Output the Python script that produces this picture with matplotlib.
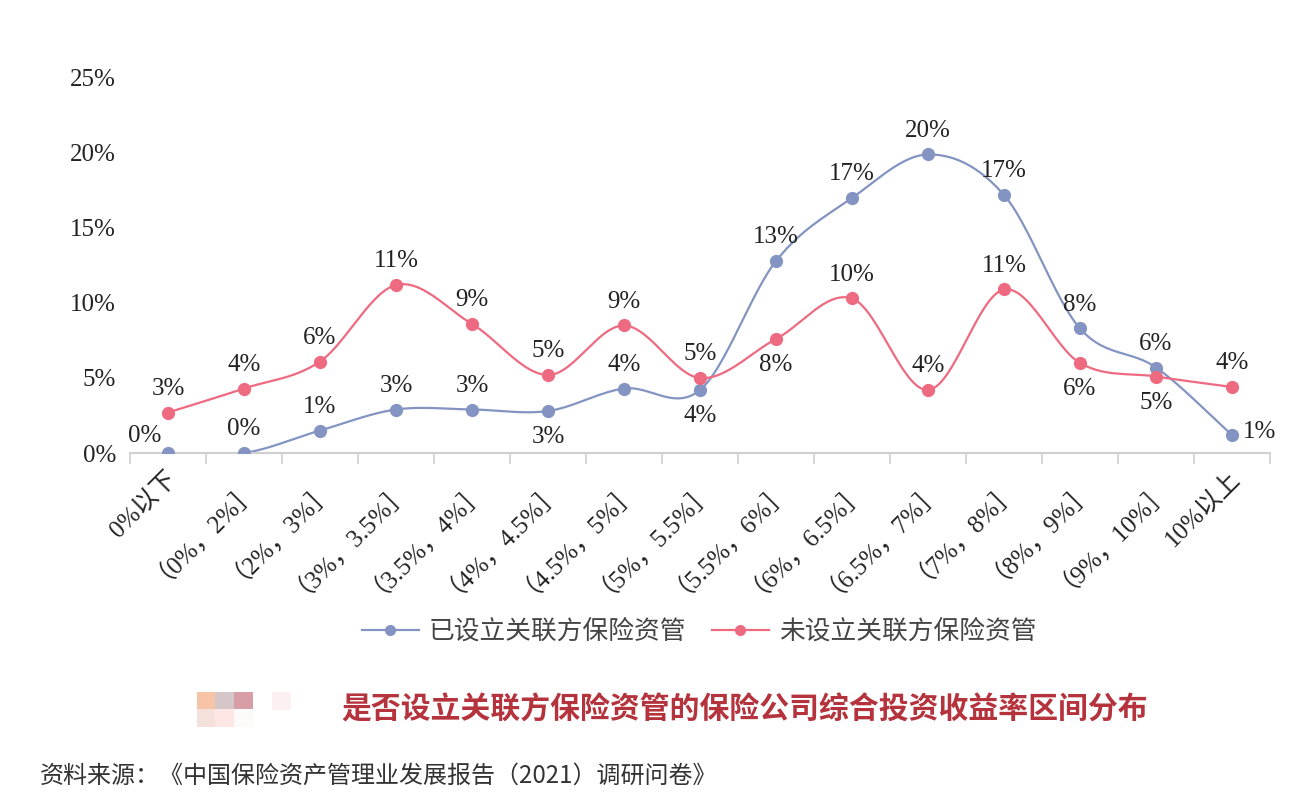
import numpy as np
import matplotlib
matplotlib.use("Agg")
import matplotlib.pyplot as plt
import matplotlib.patches as mpatches
import matplotlib.transforms as mtransforms

# Daten
kategorien = ["0%以下", "（0%，2%］", "（2%，3%］", "（3%，3.5%］", "（3.5%，4%］",
              "（4%，4.5%］", "（4.5%，5%］", "（5%，5.5%］", "（5.5%，6%］", "（6%，6.5%］",
              "（6.5%，7%］", "（7%，8%］", "（8%，9%］", "（9%，10%］", "10%以上"]
mit_am = [0.0, 0.0, 1.5, 2.9, 2.9, 2.8, 4.3, 4.2, 12.8, 17.0, 19.9, 17.2, 8.3, 5.7, 1.2]
ohne_am = [2.7, 4.3, 6.1, 11.2, 8.6, 5.2, 8.5, 5.0, 7.6, 10.3, 4.2, 10.9, 6.0, 5.1, 4.4]
mit_labels = ["0%", "0%", "1%", "3%", "3%", "3%", "4%", "4%", "13%", "17%", "20%", "17%", "8%", "6%", "1%"]
ohne_labels = ["3%", "4%", "6%", "11%", "9%", "5%", "9%", "5%", "8%", "10%", "4%", "11%", "6%", "5%", "4%"]
serien_namen = ["已设立关联方保险资管", "未设立关联方保险资管"]

# Label-Positionen (a = oben, b = unten, l = links oben, r = rechts)
mit_pos = ["l", "a", "a", "a", "a", "b", "a", "b", "a", "a", "a", "a", "a", "a", "r"]
ohne_pos = ["a", "a", "a", "a", "a", "a", "a", "a", "b", "a", "a", "a", "b", "b", "a"]

farbe_blau = "#8394c2"
farbe_rot = "#ee6a80"
serif = ["Liberation Serif", "Noto Sans CJK SC"]
cjk = ["Noto Sans CJK SC", "DejaVu Sans"]


def glatt(x, y, n=30):
    # Catmull-Rom Kurve durch die Punkte (wie Excel "geglaettete Linie")
    px = np.concatenate([[2 * x[0] - x[1]], x, [2 * x[-1] - x[-2]]])
    py = np.concatenate([[2 * y[0] - y[1]], y, [2 * y[-1] - y[-2]]])
    xs, ys = [], []
    t = np.linspace(0, 1, n)
    for i in range(1, len(px) - 2):
        for p, out in ((px, xs), (py, ys)):
            p0, p1, p2, p3 = p[i - 1], p[i], p[i + 1], p[i + 2]
            out.extend(0.5 * (2 * p1 + (-p0 + p2) * t + (2 * p0 - 5 * p1 + 4 * p2 - p3) * t ** 2
                              + (-p0 + 3 * p1 - 3 * p2 + p3) * t ** 3))
    return np.array(xs), np.array(ys)


fig = plt.figure(figsize=(13.07, 8), dpi=100)
ax = fig.add_axes([0.0995, 0.43375, 0.8722, 0.46875])

x = np.arange(len(kategorien))
offsets = {"a": (0, 17), "b": (0, -19), "l": (-17, 12), "r": (20, 2)}

for werte, labels, pos, farbe, name in ((mit_am, mit_labels, mit_pos, farbe_blau, serien_namen[0]),
                                         (ohne_am, ohne_labels, ohne_pos, farbe_rot, serien_namen[1])):
    y = np.array(werte) / 100
    gx, gy = glatt(x.astype(float), y)
    ax.plot(gx, gy, color=farbe, lw=1.6, zorder=2)
    ax.plot(x, y, "o", color=farbe, ms=8.5, zorder=3)
    # Legenden-Handle
    ax.plot([], [], "-o", color=farbe, lw=1.6, ms=7, label=name)
    for xi, yi, lab, p in zip(x, y, labels, pos):
        ax.annotate(lab, (xi, yi), xytext=offsets[p], textcoords="offset points",
                    ha="center", va="center", fontsize=18, family=serif, color="#222222")

ax.set_xlim(-0.5, len(kategorien) - 0.5)
ax.set_ylim(0, 0.25)
ax.set_yticks(np.arange(0, 0.26, 0.05))
ax.set_yticklabels([f"{int(v)}%" for v in np.arange(0, 26, 5)], family=serif, fontsize=18, color="#222222")
ax.tick_params(axis="y", length=0, pad=10)

ax.set_xticks(x)
ax.set_xticklabels(kategorien, rotation=45, ha="right", va="top", rotation_mode="anchor",
                   family=serif, fontsize=18, color="#222222")
ax.tick_params(axis="x", length=0, pad=10)
verschieb = mtransforms.ScaledTranslation(-3 / 100, 0, fig.dpi_scale_trans)
for lbl in ax.get_xticklabels():
    lbl.set_transform(lbl.get_transform() + verschieb)
ax.set_xticks(np.arange(-0.5, len(kategorien), 1), minor=True)
ax.tick_params(axis="x", which="minor", length=8, color="#d0d0d0", width=1.2)

for s in ["top", "right", "left"]:
    ax.spines[s].set_visible(False)
ax.spines["bottom"].set_color("#d0d0d0")
ax.spines["bottom"].set_linewidth(1.5)

leg = ax.legend(loc="center", bbox_to_anchor=(0.535, 0.21), bbox_transform=fig.transFigure,
                ncol=2, frameon=False, prop={"family": cjk, "size": 18.5},
                handlelength=2.2, columnspacing=1.0, handletextpad=0.4)
for t in leg.get_texts():
    t.set_color("#444444")

# verpixelter Logo-Bereich
pixel = [(197, 692, "#f7c4a8"), (215, 692, "#d5c6ca"), (234, 692, "#d89ea5"),
         (197, 709, "#f5e1dc"), (215, 709, "#fde6e4"), (234, 709, "#fdfafa"),
         (272, 692, "#fdf0f0")]
for px_, py_, c in pixel:
    fig.patches.append(mpatches.Rectangle((px_ / 1307, 1 - (py_ + 18) / 800), 19 / 1307, 18 / 800,
                                          transform=fig.transFigure, color=c, lw=0))

fig.text(0.570, 1 - 709 / 800, "是否设立关联方保险资管的保险公司综合投资收益率区间分布",
         ha="center", va="center", fontsize=21.5, fontweight="bold", family=cjk, color="#b5333c")
fig.text(40 / 1307, 1 - 776 / 800, "资料来源：《中国保险资产管理业发展报告（2021）调研问卷》",
         ha="left", va="center", fontsize=17.3, family=cjk, color="#333333")

fig.savefig("out.png", dpi=100)
